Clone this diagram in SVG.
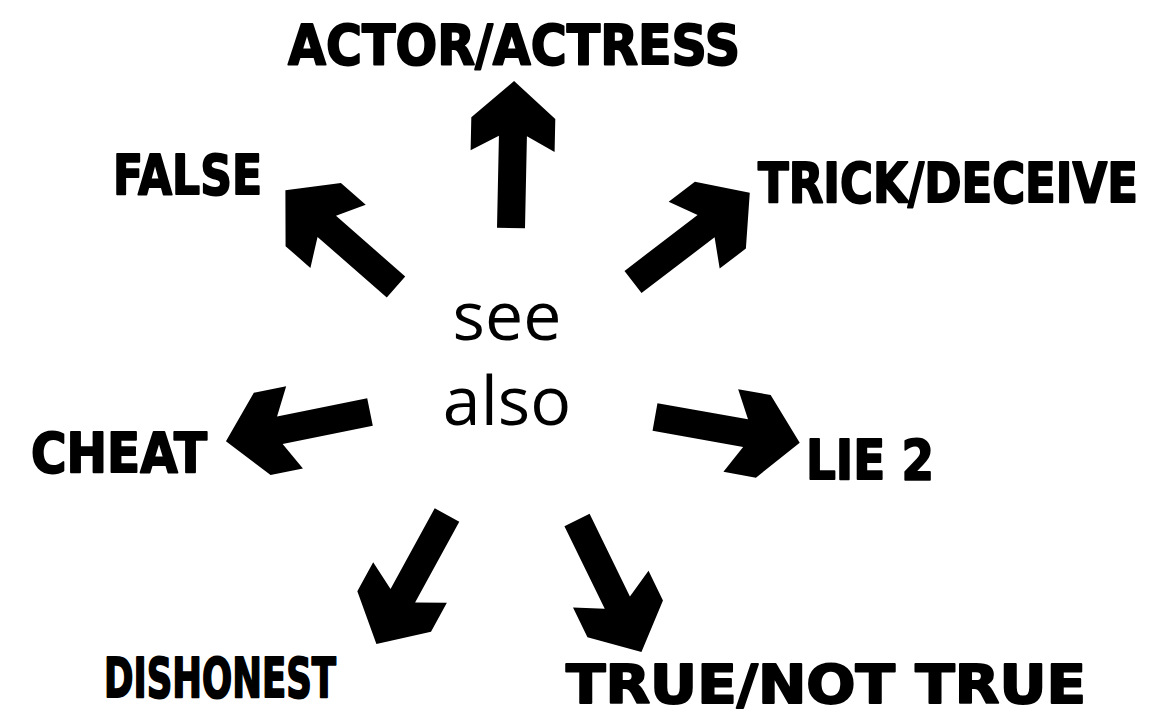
<svg xmlns="http://www.w3.org/2000/svg" width="1166" height="714" viewBox="0 0 1166 714">
<style>
.lbl{font-family:"DejaVu Sans","Liberation Sans",sans-serif;font-weight:bold;fill:#000;stroke:#000;stroke-width:2;stroke-linejoin:round;}
.ctr{font-family:"Open Sans","Noto Sans",sans-serif;font-size:68px;fill:#000;text-anchor:middle;}
.arr{fill:#000;}
</style>
<defs>
<path id="arrow" d="M0,-14 L92,-14 L77,-42 L110,-42 L147,0 L110,42 L77,42 L92,14 L0,14 Z"/>
</defs>
<rect width="1166" height="714" fill="#fff"/>
<g id="connectors" class="arr">
<use href="#arrow" transform="translate(511,228) rotate(-88.8)"/>
<use href="#arrow" transform="translate(396,287) rotate(-138.8)"/>
<use href="#arrow" transform="translate(633,282) rotate(-37.4)"/>
<use href="#arrow" transform="translate(370,412) rotate(168.5)"/>
<use href="#arrow" transform="translate(655,417) rotate(10.1)"/>
<use href="#arrow" transform="translate(447,515) rotate(118.7)"/>
<use href="#arrow" transform="translate(577,520) rotate(64)"/>
</g>
<g id="center"><text class="ctr" x="507" y="340">see</text><text class="ctr" x="507" y="425">also</text></g>
<g id="actor"><text class="lbl" x="288" y="64" font-size="56" textLength="452" lengthAdjust="spacingAndGlyphs">ACTOR/ACTRESS</text></g>
<g id="false"><text class="lbl" x="113" y="194" font-size="55" textLength="149" lengthAdjust="spacingAndGlyphs">FALSE</text></g>
<g id="trick"><text class="lbl" x="758" y="202" font-size="55" textLength="380" lengthAdjust="spacingAndGlyphs">TRICK/DECEIVE</text></g>
<g id="cheat"><text class="lbl" x="31" y="472" font-size="55" textLength="176" lengthAdjust="spacingAndGlyphs">CHEAT</text></g>
<g id="lie2"><text class="lbl" x="806" y="479" font-size="55" textLength="128" lengthAdjust="spacingAndGlyphs">LIE 2</text></g>
<g id="dishonest"><text class="lbl" x="104" y="697" font-size="55" textLength="232" lengthAdjust="spacingAndGlyphs">DISHONEST</text></g>
<g id="true"><text class="lbl" x="566" y="703" font-size="54" textLength="520" lengthAdjust="spacingAndGlyphs">TRUE/NOT TRUE</text></g>
</svg>
